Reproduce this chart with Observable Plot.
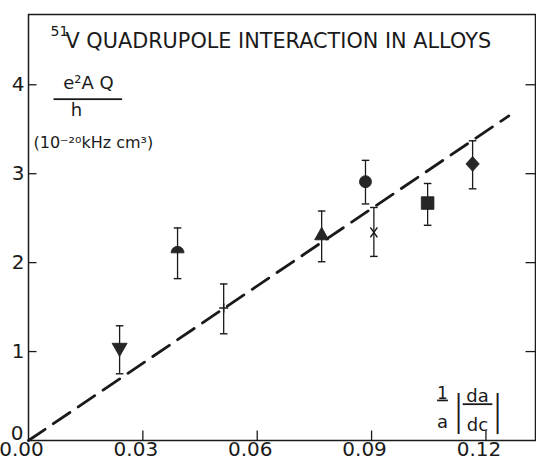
<!DOCTYPE html>
<html><head><meta charset="utf-8">
<script src="https://cdn.jsdelivr.net/npm/d3@7"></script>
<script src="https://cdn.jsdelivr.net/npm/@observablehq/plot@0.6"></script>
<style>body{margin:0;background:#fff}svg{display:block}
.ul{text-decoration:underline}.ol{text-decoration:overline}</style>
</head><body><div id="chart"></div>
<script>
// ---- data ----
const shapes = ["triangleDown","halfCircle","plus","triangleUp","circle","cross","square","diamond"];
const xVals  = [0.0239, 0.0391, 0.0512, 0.0769, 0.0884, 0.0906, 0.1047, 0.1165];
const yVals  = [1.03, 2.11, 1.49, 2.30, 2.91, 2.34, 2.67, 3.11];
const yLow   = [0.75, 1.82, 1.20, 2.01, 2.66, 2.07, 2.42, 2.83];
const yHigh  = [1.29, 2.39, 1.76, 2.58, 3.15, 2.62, 2.89, 3.37];
const fitX   = [0, 0.126];
const fitY   = [0, 3.65];
const xTicks = [0, 0.03, 0.06, 0.09, 0.12];
const yTicks = [0, 1, 2, 3, 4];
const titleSup = "51";
const titleText = "V QUADRUPOLE INTERACTION IN ALLOYS";
const yNum = "e\u00b2A Q";
const yDen = "h";
const yUnit = "(10\u207b\u00b2\u2070kHz cm\u00b3)";

// ---- tables ----
const points = shapes.map((s, i) => ({shape: s, x: xVals[i], y: yVals[i], lo: yLow[i], hi: yHigh[i]}));
const fit = fitX.map((x, i) => ({x, y: fitY[i]}));

// ---- custom symbols (r = radius passed to dot) ----
const sym = f => ({draw(c, size) { f(c, Math.sqrt(size / Math.PI)); }});
const S = {
  triangleDown: sym((c, r) => { c.moveTo(-r, -r*0.75); c.lineTo(r, -r*0.75); c.lineTo(0, r*1.0); c.closePath(); }),
  triangleUp:   sym((c, r) => { c.moveTo(-r, r*0.55); c.lineTo(r, r*0.55); c.lineTo(0, -r*1.25); c.closePath(); }),
  halfCircle:   sym((c, r) => { c.moveTo(-r, 0); c.arc(0, 0, r, Math.PI, 2*Math.PI); c.closePath(); }),
  circle:       sym((c, r) => { c.moveTo(r, 0); c.arc(0, 0, r, 0, 2*Math.PI); c.closePath(); }),
  square:       sym((c, r) => { c.rect(-r, -r, 2*r, 2*r); }),
  diamond:      sym((c, r) => { c.moveTo(0, -r*1.05); c.lineTo(r*0.95, 0); c.lineTo(0, r*1.05); c.lineTo(-r*0.95, 0); c.closePath(); }),
  plus:         sym((c, r) => { c.moveTo(-r, 0); c.lineTo(r, 0); c.moveTo(0, -r); c.lineTo(0, r); }),
  cross:        sym((c, r) => { c.moveTo(-r*0.7, -r); c.lineTo(r*0.7, r); c.moveTo(r*0.7, -r); c.lineTo(-r*0.7, r); }),
  hbar:         sym((c, r) => { c.moveTo(-r, 0); c.lineTo(r, 0); }),
  tickUp:       sym((c, r) => { c.moveTo(0, 0); c.lineTo(0, -r); }),
  tickRight:    sym((c, r) => { c.moveTo(0, 0); c.lineTo(r, 0); }),
  tickLeft:     sym((c, r) => { c.moveTo(0, 0); c.lineTo(-r, 0); })
};
const sizes = {triangleDown: 7.5, triangleUp: 7, halfCircle: 6.5, circle: 6, square: 6.3, diamond: 7, plus: 4.5, cross: 5};
const filled = new Set(["triangleDown","triangleUp","halfCircle","circle","square","diamond"]);

const ink = "#1a1a1a";
const F = "DejaVu Sans";
const nb = "\u00a0", th = "\u2009";
const T = (s, dx, dy, size, anchor = "middle", className, fontWeight = 400) =>
  Plot.text([s], {text: d => d, frameAnchor: "top-left", dx, dy, textAnchor: anchor, fontSize: size, fontWeight, fill: ink, className});
const marks = [
  Plot.frame({stroke: ink, strokeWidth: 1.5}),
  // inward ticks
  Plot.dot(xTicks.slice(1), {x: d => d, y: () => 0, symbol: S.tickUp, r: 10, stroke: ink, strokeWidth: 1.3}),
  Plot.dot(yTicks.slice(1), {x: () => 0, y: d => d, symbol: S.tickRight, r: 8, stroke: ink, strokeWidth: 1.3}),
  Plot.dot(yTicks.slice(1), {x: () => 0.133, y: d => d, symbol: S.tickLeft, r: 10, stroke: ink, strokeWidth: 1.3}),
  Plot.axisX(xTicks, {tickSize: 0, tickPadding: 1, dx: -7, tickFormat: d3.format(".2f"), fontSize: 20, fill: ink, label: null}),
  Plot.axisY(yTicks.slice(1), {tickSize: 0, tickPadding: 4, tickFormat: d3.format("d"), fontSize: 20, fill: ink, label: null}),
  Plot.axisY(yTicks.slice(0, 1), {tickSize: 0, tickPadding: 5, dy: -7, tickFormat: d3.format("d"), fontSize: 20, fill: ink, label: null}),
  // fitted dashed line
  Plot.line(fit, {x: "x", y: "y", stroke: ink, strokeWidth: 2.8, strokeDasharray: "20,10"}),
  // error bars
  Plot.ruleX(points, {x: "x", y1: "lo", y2: "hi", stroke: ink, strokeWidth: 1.3}),
  Plot.dot(points, {x: "x", y: "lo", symbol: S.hbar, r: 3.8, stroke: ink, strokeWidth: 1.4}),
  Plot.dot(points, {x: "x", y: "hi", symbol: S.hbar, r: 3.8, stroke: ink, strokeWidth: 1.4}),
  // markers
  ...shapes.map(s => Plot.dot(points.filter(d => d.shape === s), {
    x: "x", y: "y", symbol: S[s], r: sizes[s],
    fill: filled.has(s) ? "#262626" : "none",
    stroke: ink, strokeWidth: filled.has(s) ? 0.8 : 1.5
  })),
  // title and axis annotations
  T(titleSup, 22, 12, 14, "start"),
  T(titleText, 37, 19, 20.8, "start"),
  T(yNum, 60, 62, 18),
  T(nb.repeat(3) + yDen + nb.repeat(7), 25, 89, 18, "start", "ol"),
  T(yUnit, 5, 122, 16, "start"),
  T("1", 414, 372, 17, "middle", "ul"),
  T("a", 414, 401, 18),
  T(th + "da" + th, 449, 375, 18, "middle", "ul"),
  T("dc", 449, 404, 18),
  T("|", 430, 381, 40, "middle", undefined, 200),
  T("|", 469, 381, 40, "middle", undefined, 200)
];

const chart = Plot.plot({
  width: 536, height: 462,
  marginLeft: 28, marginRight: 1, marginTop: 14, marginBottom: 22,
  style: {fontFamily: F, fontWeight: 400, background: "#fff", color: ink},
  x: {domain: [0, 0.133]},
  y: {domain: [0, 4.79]},
  marks
});
document.getElementById("chart").append(chart);
</script>
</body></html>
